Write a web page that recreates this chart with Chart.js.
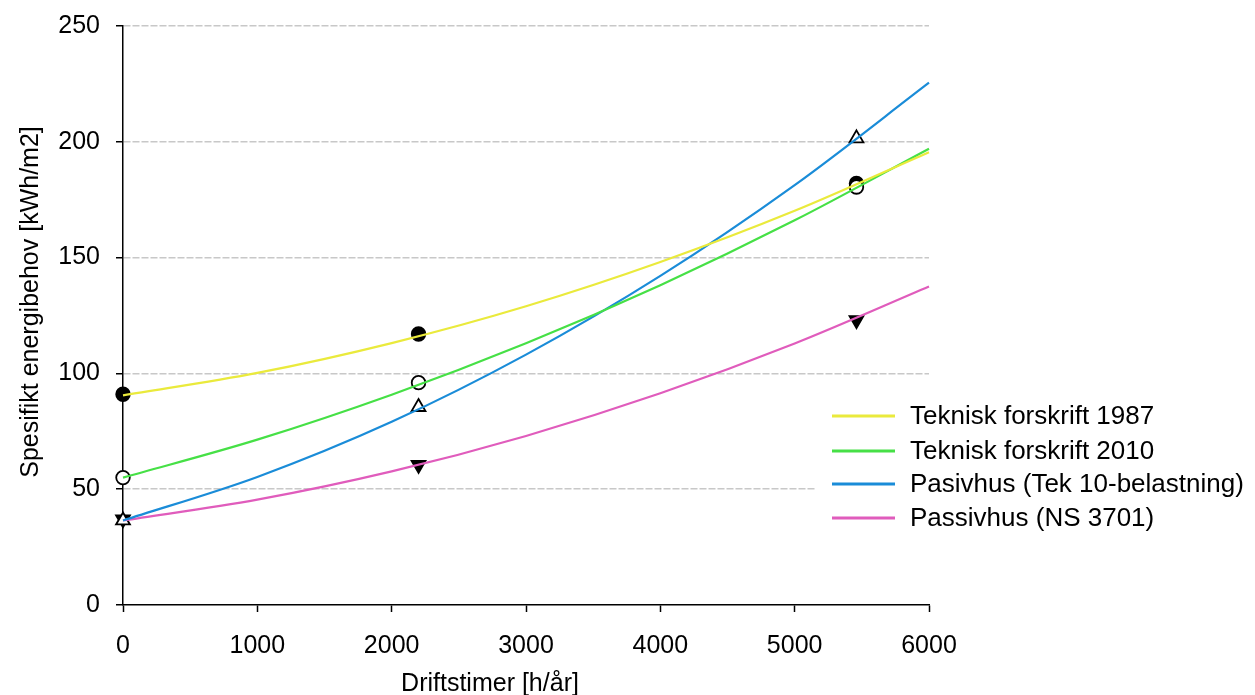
<!DOCTYPE html>
<html>
<head>
<meta charset="utf-8">
<title>Spesifikt energibehov</title>
<script src="https://cdn.jsdelivr.net/npm/chart.js@4"></script>
<style>
  html, body { margin: 0; padding: 0; background: #fff; }
  #wrap { width: 1255px; height: 695px; }
</style>
</head>
<body>
<div id="wrap"><canvas id="chart" width="1255" height="695"></canvas></div>
<script>
// measured points (driftstimer -> kWh/m2)
const hours = [0, 2200, 5460];
const tek87Pts = [91, 117, 182];
const tek10Pts = [55, 96, 180.5];
const pasTek10Pts = [36.5, 85.5, 201.5];
const ns3701Pts = [37, 60.5, 123];

// trend lines, every 1000 h
const trendHours = [0, 1000, 2000, 3000, 4000, 5000, 6000];
const tek87Trend = [90.5, 100.2, 113.1, 129.0, 148.1, 170.2, 195.5];
const tek10Trend = [55, 71.4, 90.8, 113.0, 138.1, 166.1, 197.0];
const pasTek10Trend = [36.5, 55.3, 79.1, 108.1, 142.1, 181.3, 225.5];
const ns3701Trend = [36.5, 45.5, 57.7, 73.0, 91.4, 112.9, 137.5];

const xTicks = [0, 1000, 2000, 3000, 4000, 5000, 6000];
const yTicks = [0, 50, 100, 150, 200, 250];

const seriesNames = ["Teknisk forskrift 1987", "Teknisk forskrift 2010", "Pasivhus (Tek 10-belastning)", "Passivhus (NS 3701)"];
const seriesColors = ["#eaea3c", "#46e046", "#1a8cd8", "#e05cbc"];

const FONT = "'Liberation Sans', Arial, sans-serif";

const toXY = (xs, ys) => xs.map((x, i) => ({ x: x, y: ys[i] }));

function trendSet(i, ys) {
  return {
    label: seriesNames[i],
    data: toXY(trendHours, ys),
    showLine: true,
    borderColor: seriesColors[i],
    borderWidth: 2.2,
    pointRadius: 0,
    cubicInterpolationMode: "monotone",
    clip: false,
    order: i + 1
  };
}

function markerSet(ys, style, fill, rot, r, order) {
  return {
    label: "",
    data: toXY(hours, ys),
    showLine: false,
    pointStyle: style,
    pointRotation: rot,
    pointRadius: r,
    pointBackgroundColor: fill,
    pointBorderColor: "#000",
    pointBorderWidth: 1.8,
    clip: false,
    order: order
  };
}

// draws titles + legend box on top
const extras = {
  id: "extras",
  afterDraw(chart) {
    const c = chart.ctx;
    c.save();
    c.fillStyle = "#000";
    c.font = "25px " + FONT;
    c.textAlign = "center";
    c.textBaseline = "alphabetic";
    c.fillText("Driftstimer [h/år]", 490, 691);
    c.translate(38, 302);
    c.rotate(-Math.PI / 2);
    c.fillText("Spesifikt energibehov [kWh/m2]", 0, 0);
    c.restore();

    c.save();
    c.fillStyle = "#fff";
    c.fillRect(815, 392, 440, 145);
    const rows = [416, 451, 484, 518];
    c.font = "26px " + FONT;
    c.textAlign = "left";
    c.textBaseline = "middle";
    seriesNames.forEach((name, i) => {
      c.strokeStyle = seriesColors[i];
      c.lineWidth = 3;
      c.beginPath();
      c.moveTo(832, rows[i]);
      c.lineTo(895, rows[i]);
      c.stroke();
      c.fillStyle = "#000";
      c.fillText(name, 910, rows[i] + 1);
    });
    c.restore();
  }
};

new Chart(document.getElementById("chart"), {
  type: "scatter",
  data: {
    datasets: [
      trendSet(0, tek87Trend),
      trendSet(1, tek10Trend),
      trendSet(2, pasTek10Trend),
      trendSet(3, ns3701Trend),
      markerSet(pasTek10Pts, "triangle", "#fff", 0, 8, 5),
      markerSet(tek10Pts, "circle", "#fff", 0, 6.8, 6),
      markerSet(tek87Pts, "circle", "#000", 0, 6.8, 7),
      markerSet(ns3701Pts, "triangle", "#000", 180, 8, 8)
    ]
  },
  options: {
    responsive: false,
    animation: false,
    layout: { padding: { top: 26, right: 326, bottom: 0, left: 0 } },
    plugins: {
      legend: { display: false },
      tooltip: { enabled: false }
    },
    scales: {
      x: {
        type: "linear",
        min: 0,
        max: 6000,
        afterBuildTicks: s => { s.ticks = xTicks.map(v => ({ value: v })); },
        afterFit: s => { s.height = 90; s.paddingLeft = 0; s.paddingRight = 0; },
        grid: { drawOnChartArea: false, drawTicks: true, tickLength: 7, tickColor: "#000", tickWidth: 1.5 },
        border: { color: "#000", width: 1.5 },
        ticks: { color: "#000", font: { family: FONT, size: 25 }, padding: 19, maxRotation: 0, callback: v => String(v) }
      },
      y: {
        min: 0,
        max: 250,
        afterBuildTicks: s => { s.ticks = yTicks.map(v => ({ value: v })); },
        afterFit: s => { s.width = 123; s.paddingTop = 0; s.paddingBottom = 0; },
        grid: {
          color: ctx => (ctx.tick && ctx.tick.value === 0 ? "rgba(0,0,0,0)" : "#c8c8c8"),
          lineWidth: 1.5,
          tickLength: 7,
          tickColor: "#000",
          tickWidth: 1.5
        },
        border: { color: "#000", width: 1.5, dash: [7, 2] },
        ticks: { color: "#000", font: { family: FONT, size: 25 }, padding: 16, callback: v => String(v) }
      }
    }
  },
  plugins: [extras]
});
</script>
</body>
</html>
